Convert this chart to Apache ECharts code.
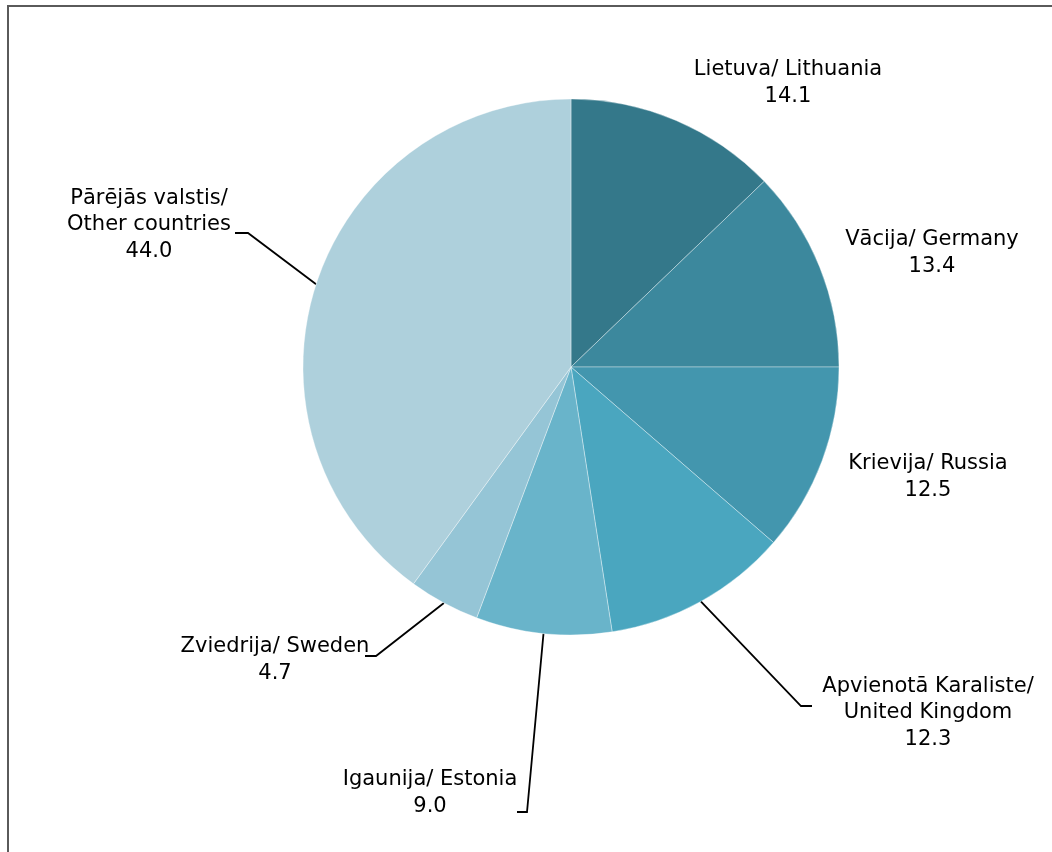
<!DOCTYPE html>
<html>
<head>
<meta charset="utf-8">
<script src="https://cdn.jsdelivr.net/npm/echarts@6/dist/echarts.min.js"></script>
<style>
html, body { margin: 0; padding: 0; background: #fff; }
#frame {
    position: absolute; left: 7px; top: 5px; width: 1100px; height: 900px;
    border-top: 2px solid #5a5a5a; border-left: 2px solid #5a5a5a;
}
#chart { position: absolute; left: 0; top: 0; width: 1052px; height: 852px; }
</style>
</head>
<body>
<div id="frame"></div>
<div id="chart"></div>
<script>
// kategorijas / categories
const categories = [
    'Lietuva/ Lithuania',
    'Vācija/ Germany',
    'Krievija/ Russia',
    'Apvienotā Karaliste/\nUnited Kingdom',
    'Igaunija/ Estonia',
    'Zviedrija/ Sweden',
    'Pārējās valstis/\nOther countries'
]
const values = [14.1, 13.4, 12.5, 12.3, 9.0, 4.7, 44.0]
const colors = ['#34788a', '#3c889d', '#4396ae', '#4aa6bf', '#69b4ca', '#95c5d6', '#aed0dc']
const showLine = [false, false, false, true, true, true, true]

// label placement (centre of the text block) and leader elbows
const labelPos = [[788, 83], [932, 253], [928, 477], [928, 713], [430, 793], [275, 660], [149, 225]]
const leaders = {
    3: [[801, 706], [812, 706]],
    4: [[527, 812], [517, 812]],
    5: [[376, 656], [365, 656]],
    6: [[248, 233], [235, 233]]
}

const chart = echarts.init(document.getElementById('chart'))
const option = {
    animation: false,
    series: [{
        type: 'pie',
        center: [571, 367],
        radius: 268,
        startAngle: 90,
        clockwise: true,
        avoidLabelOverlap: false,
        itemStyle: { borderColor: 'rgba(255,255,255,0.6)', borderWidth: 0.6 },
        label: {
            show: true,
            position: 'outside',
            color: '#000',
            fontFamily: 'DejaVu Sans',
            fontSize: 21,
            lineHeight: 26.5,
            align: 'center',
            formatter: function(p) {
                return p.name + '\n' + p.value.toFixed(1)
            }
        },
        labelLine: { length: 20, length2: 10, lineStyle: { color: '#000', width: 1.8 } },
        labelLayout: function(params) {
            const i = params.dataIndex
            const res = { x: labelPos[i][0], y: labelPos[i][1], align: 'center', verticalAlign: 'middle' }
            if (leaders[i] && params.labelLinePoints) {
                res.labelLinePoints = [params.labelLinePoints[0], leaders[i][0], leaders[i][1]]
            }
            return res
        },
        emphasis: { disabled: true },
        data: categories.map(function(name, i) {
            return {
                name: name,
                value: values[i],
                itemStyle: { color: colors[i] },
                labelLine: { show: showLine[i] }
            }
        })
    }]
}
chart.setOption(option)
</script>
</body>
</html>
